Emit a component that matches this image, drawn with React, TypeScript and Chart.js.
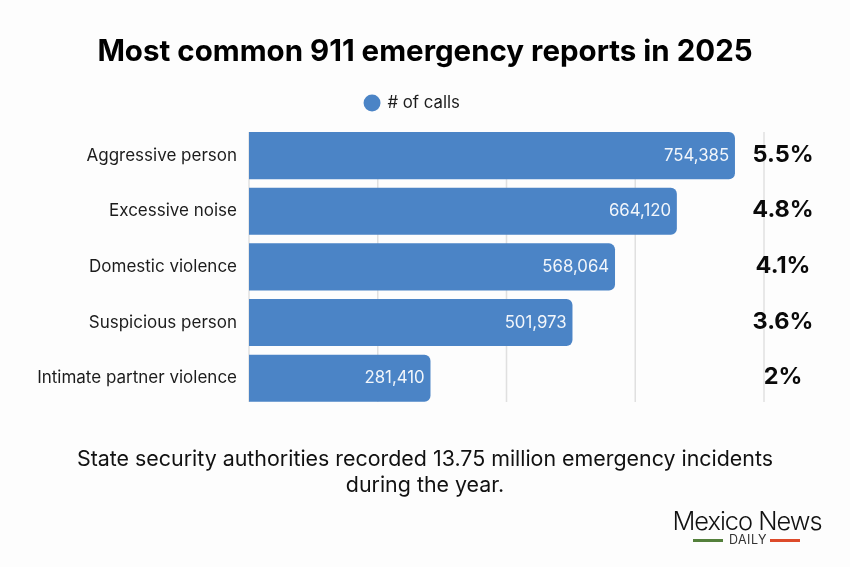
import { useEffect, useRef } from "react";
import { Chart, registerables, type Plugin } from "chart.js";

Chart.register(...registerables);

const categories = [
  "Aggressive person",
  "Excessive noise",
  "Domestic violence",
  "Suspicious person",
  "Intimate partner violence",
];
const calls = [754385, 664120, 568064, 501973, 281410];
const shares = ["5.5%", "4.8%", "4.1%", "3.6%", "2%"];

const FONT = "Inter, sans-serif";
const BLUE = "#4b84c6";
const INK = "#1c1c1c";

// vertical rules stop short of the category bands, so they are drawn here
const gridPlugin: Plugin<"bar"> = {
  id: "shortGrid",
  beforeDatasetsDraw(chart) {
    const { ctx, scales } = chart;
    ctx.save();
    ctx.strokeStyle = "#e0e0e0";
    ctx.lineWidth = 1.5;
    scales.x.ticks.forEach((tick) => {
      const x = scales.x.getPixelForValue(tick.value);
      ctx.beginPath();
      ctx.moveTo(x, 132);
      ctx.lineTo(x, 402);
      ctx.stroke();
    });
    ctx.restore();
  },
};

const labelPlugin: Plugin<"bar"> = {
  id: "barLabels",
  afterDatasetsDraw(chart) {
    const { ctx, scales } = chart;
    ctx.save();
    ctx.textBaseline = "middle";
    calls.forEach((value, i) => {
      const y = scales.y.getPixelForValue(i);
      ctx.font = `400 16.8px ${FONT}`;
      ctx.fillStyle = "#f2f6fb";
      ctx.textAlign = "right";
      ctx.fillText(value.toLocaleString("en-US"), scales.x.getPixelForValue(value) - 5.5, y);
      ctx.font = `700 23.5px ${FONT}`;
      ctx.fillStyle = "#0a0a0a";
      ctx.textAlign = "center";
      ctx.fillText(shares[i], 783, y - 1);
    });
    ctx.restore();
  },
};

// the legend sits left of the canvas centre and higher than its layout slot
const legendBoxPlugin: Plugin<"bar"> = {
  id: "legendBox",
  afterLayout(chart) {
    if (chart.legend) {
      chart.legend.left = 61;
      chart.legend.right = 764;
      chart.legend.top -= 6.4;
      chart.legend.bottom -= 6.4;
    }
  },
};

export default function App() {
  const canvasRef = useRef<HTMLCanvasElement>(null);

  useEffect(() => {
    if (!canvasRef.current) {
      return;
    }

    const chart = new Chart(canvasRef.current, {
      type: "bar",
      data: {
        labels: categories,
        datasets: [
          {
            label: "# of calls",
            data: calls,
            backgroundColor: BLUE,
            borderRadius: { topRight: 6, bottomRight: 6, topLeft: 0, bottomLeft: 0 },
            borderSkipped: false,
            barThickness: 46.4,
          },
        ],
      },
      options: {
        indexAxis: "y",
        animation: false,
        responsive: false,
        layout: { padding: { left: 0, right: 86, top: 91, bottom: 161 } },
        plugins: {
          tooltip: { enabled: false },
          legend: {
            position: "top",
            labels: {
              usePointStyle: true,
              pointStyle: "circle",
              boxWidth: 14,
              boxHeight: 12,
              color: INK,
              font: { family: FONT, size: 16.8 },
              padding: 10,
            },
          },
        },
        scales: {
          x: {
            display: false,
            min: 0,
            max: 800000,
            ticks: { stepSize: 200000 },
          },
          y: {
            afterFit(scale) {
              scale.width = 249;
            },
            border: { display: false },
            grid: { display: false, drawTicks: false },
            ticks: {
              color: INK,
              padding: 12,
              font: { family: FONT, size: 17 },
            },
          },
        },
      },
      plugins: [gridPlugin, labelPlugin, legendBoxPlugin],
    });

    return () => {
      chart.destroy();
    };
  }, []);

  return (
    <div
      style={{
        position: "fixed",
        left: 0,
        top: 0,
        width: 850,
        height: 567,
        background: "#fdfdfd",
        fontFamily: FONT,
        overflow: "hidden",
      }}
    >
      <canvas ref={canvasRef} width={850} height={567} style={{ position: "absolute", left: 0, top: 0 }} />
      <div
        style={{
          position: "absolute",
          left: 0,
          width: 850,
          top: 32,
          textAlign: "center",
          fontSize: 29.5,
          lineHeight: "36px",
          fontWeight: 700,
          color: "#000",
        }}
      >
        Most common 911 emergency reports in 2025
      </div>
      <div
        style={{
          position: "absolute",
          left: 50,
          width: 750,
          top: 445,
          textAlign: "center",
          fontSize: 21.4,
          lineHeight: "26px",
          color: "#111",
        }}
      >
        State security authorities recorded 13.75 million emergency incidents during the year.
      </div>
      <div
        style={{
          position: "absolute",
          left: 660,
          width: 174,
          top: 506,
          textAlign: "center",
          fontSize: 25.4,
          lineHeight: "30px",
          letterSpacing: -1,
          fontWeight: 300,
          color: "#111",
        }}
      >
        Mexico News
      </div>
      <div
        style={{
          position: "absolute",
          left: 660,
          width: 176,
          top: 532,
          textAlign: "center",
          fontSize: 12.5,
          lineHeight: "16px",
          letterSpacing: 0.5,
          color: "#333",
        }}
      >
        DAILY
      </div>
      <div style={{ position: "absolute", left: 693, top: 539, width: 30, height: 3, background: "#54803c" }} />
      <div style={{ position: "absolute", left: 770, top: 539, width: 30, height: 3, background: "#dd4a2a" }} />
    </div>
  );
}
